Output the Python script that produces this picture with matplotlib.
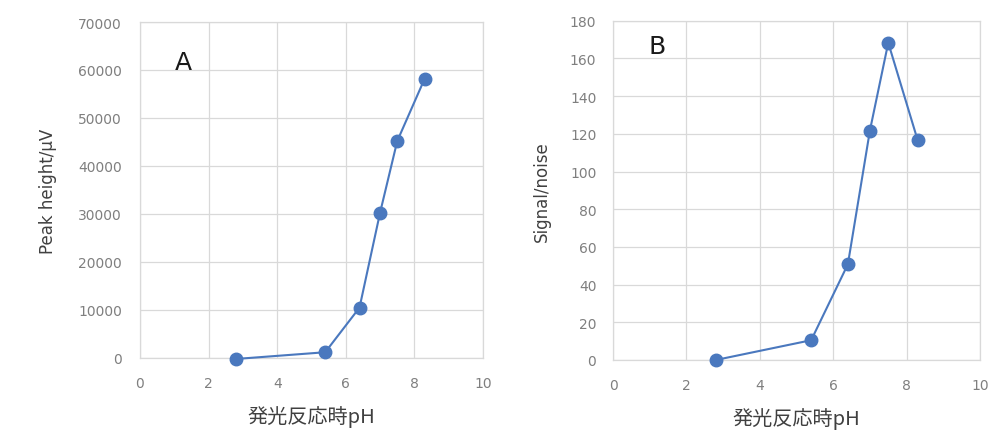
import matplotlib
matplotlib.use("Agg")
import matplotlib.pyplot as plt

ph_a = [2.8, 5.4, 6.4, 7.0, 7.5, 8.3]
peak_height = [-200, 1200, 10500, 30300, 45200, 58200]
ph_b = [2.8, 5.4, 6.4, 7.0, 7.5, 8.3]
signal_noise = [0, 10.5, 50.8, 121.7, 168.3, 116.7]

xticks = [0, 2, 4, 6, 8, 10]
yticks_a = [0, 10000, 20000, 30000, 40000, 50000, 60000, 70000]
yticks_b = [0, 20, 40, 60, 80, 100, 120, 140, 160, 180]

blue = "#4A78BE"
grid_c = "#D9D9D9"
tick_c = "#7F7F7F"
label_c = "#404040"
cjk = ["Noto Sans CJK JP", "DejaVu Sans"]

fig = plt.figure(figsize=(9.92, 4.39), dpi=100)
ax1 = fig.add_axes([140/992, 1-359/439, 343/992, 336/439])
ax2 = fig.add_axes([613/992, 1-361/439, 367/992, 339.3/439])

def style(ax, yticks, ylim, xl, yl, ylpad, labpad):
    ax.set_xlim(0, 10)
    ax.set_ylim(*ylim)
    ax.set_xticks(xticks)
    ax.set_yticks(yticks)
    ax.grid(True, color=grid_c, linewidth=0.9)
    ax.set_axisbelow(True)
    for s in ax.spines.values():
        s.set_color(grid_c)
        s.set_linewidth(0.9)
    ax.tick_params(axis="both", length=0, labelsize=10, labelcolor=tick_c)
    ax.tick_params(axis="x", pad=13)
    ax.tick_params(axis="y", pad=ylpad)
    ax.set_xlabel(xl, fontsize=14.5, color=label_c, family=cjk, labelpad=11)
    ax.set_ylabel(yl, fontsize=12, color=label_c, labelpad=labpad)

ax1.plot(ph_a, peak_height, color=blue, linewidth=1.5, marker="o", markersize=9, zorder=3)
style(ax1, yticks_a, (0, 70000), "発光反応時pH", "Peak height/μV", 13, 15)
ax1.text(1.26, 61700, "A", fontsize=18, ha="center", va="center", color="#1a1a1a")

ax2.plot(ph_b, signal_noise, color=blue, linewidth=1.5, marker="o", markersize=9, zorder=3)
style(ax2, yticks_b, (0, 180), "発光反応時pH", "Signal/noise", 12, 14)
ax2.text(1.19, 166.7, "B", fontsize=18, ha="center", va="center", color="#1a1a1a")

for ax in (ax1, ax2):
    for l in ax.lines:
        l.set_clip_on(False)

fig.savefig("out.png", dpi=100)
